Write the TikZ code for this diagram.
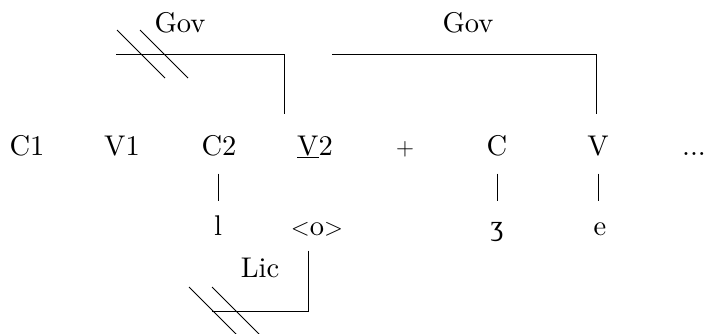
\documentclass[tikz,border=0pt]{standalone}
\usepackage{fontspec}
\setmainfont{lmroman10}[Extension=.otf,UprightFont=*-regular]
\newfontfamily\ipafont{Liberation Serif}

\tikzset{
  seg/.style={anchor=base,inner sep=0pt,text height=20pt,text depth=6pt},
  assoc/.style={shorten <=12pt,shorten >=14pt},
}

\begin{document}
\begin{tikzpicture}[x=1pt,y=-1pt,line width=1pt,font=\fontsize{28.5}{34}\selectfont]
                \useasboundingbox (0,0) rectangle (705,333);
                % skeleton
                \node[seg] (c1) at (27,155) {C1};
                \node[seg] (v1) at (122,155) {V1};
                \node[seg] (c2) at (219,155) {C2};
                \node[seg] (v2) at (315,155) {\underline{V}2};
                \node[seg] (plus) at (405,155) {$+$};
                \node[seg] (c) at (497,155) {C};
                \node[seg] (v) at (598,155) {V};
                \node[seg] (dots) at (694,155) {...};
                % melody
                \node[seg] (l) at (218,235) {l};
                \node[seg] (o) at (317,235) {$<$o$>$};
                \node[seg] (zh) at (497,235) {\ipafont ʒ};
                \node[seg] (e) at (600,235) {e};
                \draw[assoc] (l.north |- c2.south) -- (l.north);
                \draw[assoc] (c.south) -- (c.south |- zh.north);
                \draw[assoc] (v.south) -- (v.south |- e.north);
                % relations
                \node[anchor=base] (gov1) at (180,32) {Gov};
                \node[anchor=base] (gov2) at (468,32) {Gov};
                \node[anchor=base] (lic) at (260,277) {Lic};
                \coordinate (gov1start) at (116,54);
                \coordinate (gov2start) at (332,54);
                \coordinate (licend) at (212,311);
                \draw[shorten >=21pt] (gov1start) -| ([xshift=-31pt]v2.north);
                \draw[shorten >=21pt] (gov2start) -| ([xshift=-2pt]v.north);
                \draw[shorten <=9pt] ([xshift=-9pt]o.south) |- (licend);
                % blocked
                \foreach \p in {(141,54),(164,54),(213,311),(236,311)}
                    \draw \p ++(-24,-24) -- ++(48,48);
            \end{tikzpicture}
\end{document}
